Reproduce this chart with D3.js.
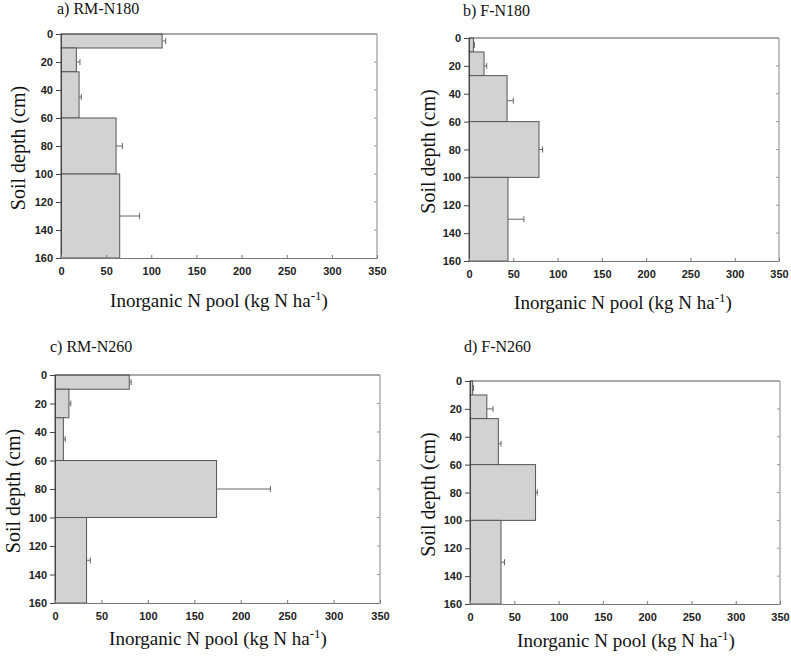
<!DOCTYPE html>
<html>
<head>
<meta charset="utf-8">
<script src="https://cdn.jsdelivr.net/npm/d3@7"></script>
<style>
  body { margin: 0; background: #fff; }
  svg { display: block; }
</style>
</head>
<body>
<svg id="chart" width="791" height="661"></svg>
<script>
// ---- Data ----
const xTicks = [0, 50, 100, 150, 200, 250, 300, 350];
const yTicks = [0, 20, 40, 60, 80, 100, 120, 140, 160];
const errDepth = [5, 20, 45, 80, 130];

const titleA = "a) RM-N180", boundsA = [0, 10, 27, 60, 100, 160];
const valuesA = [112, 17, 20, 61, 65];
const errA = [4, 4, 2.5, 7, 22];

const titleB = "b) F-N180", boundsB = [0, 10, 27, 60, 100, 160];
const valuesB = [5, 17, 43, 79, 44];
const errB = [1, 3, 7, 4, 18];

const titleC = "c) RM-N260", boundsC = [0, 10, 30, 60, 100, 160];
const valuesC = [80, 15, 9, 174, 34];
const errC = [2, 2, 2, 58, 4];

const titleD = "d) F-N260", boundsD = [0, 10, 27, 60, 100, 160];
const valuesD = [3, 19, 32, 74, 35];
const errD = [1, 7, 3, 2, 4];

// ---- Layout ----
const panels = [
  { title: titleA, bounds: boundsA, values: valuesA, err: errA,
    l: 61, r: 377, t: 34, b: 258, tx: 57, ty: 14, ylx: 18, xlx: 219, xly: 307 },
  { title: titleB, bounds: boundsB, values: valuesB, err: errB,
    l: 469, r: 779, t: 38, b: 261, tx: 463, ty: 16, ylx: 428, xlx: 623, xly: 309 },
  { title: titleC, bounds: boundsC, values: valuesC, err: errC,
    l: 55, r: 380, t: 375, b: 603, tx: 50, ty: 352, ylx: 13, xlx: 218, xly: 645 },
  { title: titleD, bounds: boundsD, values: valuesD, err: errD,
    l: 470, r: 780, t: 381, b: 604, tx: 464, ty: 352, ylx: 428, xlx: 626, xly: 647 }
];

const svg = d3.select("#chart");
const serif = "'Liberation Serif', 'Times New Roman', serif";
const sans = "'Liberation Sans', Arial, sans-serif";

panels.forEach(p => {
  const x = d3.scaleLinear().domain([0, 350]).range([p.l, p.r]);
  const y = d3.scaleLinear().domain([0, 160]).range([p.t, p.b]);
  const g = svg.append("g");

  // bars
  const layers = p.values.map((v, i) => ({ v, top: p.bounds[i], bot: p.bounds[i + 1], e: p.err[i], ed: errDepth[i] }));
  g.selectAll("rect.bar").data(layers).enter().append("rect")
    .attr("class", "bar")
    .attr("x", x(0))
    .attr("y", d => y(d.top))
    .attr("width", d => x(d.v) - x(0))
    .attr("height", d => y(d.bot) - y(d.top))
    .attr("fill", "#d2d2d2")
    .attr("stroke", "#555")
    .attr("stroke-width", 1);

  // error bars
  const eg = g.selectAll("g.err").data(layers).enter().append("g").attr("class", "err")
    .attr("stroke", "#666").attr("stroke-width", 1);
  eg.append("line")
    .attr("x1", d => x(d.v)).attr("x2", d => x(d.v + d.e))
    .attr("y1", d => y(d.ed)).attr("y2", d => y(d.ed));
  eg.append("line")
    .attr("x1", d => x(d.v + d.e)).attr("x2", d => x(d.v + d.e))
    .attr("y1", d => y(d.ed) - 3).attr("y2", d => y(d.ed) + 3);

  // frame: top and right
  g.append("line").attr("x1", p.l).attr("x2", p.r).attr("y1", p.t).attr("y2", p.t)
    .attr("stroke", "#555").attr("stroke-width", 1);
  g.append("line").attr("x1", p.r).attr("x2", p.r).attr("y1", p.t).attr("y2", p.b)
    .attr("stroke", "#888").attr("stroke-width", 1);
  // right inward ticks
  g.selectAll("line.rt").data(yTicks.slice(1, -1)).enter().append("line")
    .attr("x1", p.r - 3).attr("x2", p.r).attr("y1", d => y(d)).attr("y2", d => y(d))
    .attr("stroke", "#999");

  // left axis
  const ya = g.append("g").attr("transform", `translate(${p.l},0)`)
    .call(d3.axisLeft(y).tickValues(yTicks).tickSize(5).tickPadding(3).tickFormat(d3.format("d")));
  ya.select(".domain").attr("stroke", "#444");
  ya.selectAll(".tick line").attr("stroke", "#444");
  ya.selectAll("text").attr("font-family", sans).attr("font-size", 11).attr("font-weight", "bold").attr("fill", "#222");

  // bottom axis
  const xa = g.append("g").attr("transform", `translate(0,${p.b})`)
    .call(d3.axisBottom(x).tickValues(xTicks).tickSizeInner(-3).tickSizeOuter(0).tickPadding(9).tickFormat(d3.format("d")));
  xa.select(".domain").attr("stroke", "#777");
  xa.selectAll(".tick line").attr("stroke", "#777");
  xa.selectAll("text").attr("font-family", sans).attr("font-size", 11).attr("font-weight", "bold").attr("fill", "#222");

  // title
  svg.append("text").attr("x", p.tx).attr("y", p.ty)
    .attr("font-family", serif).attr("font-size", 16).attr("fill", "#111")
    .text(p.title);

  // y label
  svg.append("text")
    .attr("transform", `translate(${p.ylx},${(p.t + p.b) / 2 + 2}) rotate(-90)`)
    .attr("text-anchor", "middle").attr("dominant-baseline", "central")
    .attr("font-family", serif).attr("font-size", 20).attr("fill", "#111")
    .text("Soil depth (cm)");

  // x label
  const xl = svg.append("text").attr("x", p.xlx).attr("y", p.xly)
    .attr("text-anchor", "middle")
    .attr("font-family", serif).attr("font-size", 19).attr("fill", "#111");
  xl.append("tspan").text("Inorganic N pool (kg N ha");
  xl.append("tspan").attr("font-size", 13).attr("dy", -7).text("-1");
  xl.append("tspan").attr("dy", 7).text(")");
});
</script>
</body>
</html>
